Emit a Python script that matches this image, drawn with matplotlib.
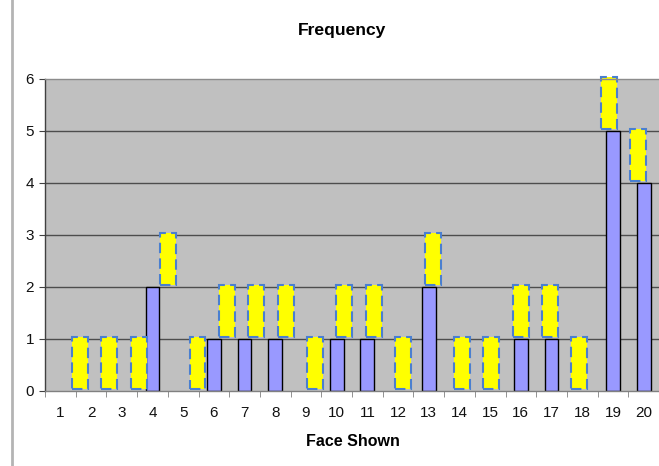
import matplotlib
matplotlib.use('Agg')
import matplotlib.pyplot as plt
from matplotlib.lines import Line2D
import numpy as np

plt.rcParams['font.family'] = ['Liberation Sans', 'DejaVu Sans']

# roll counts per die face
faces = np.arange(1, 21)
counts = [0, 0, 0, 2, 0, 1, 1, 1, 0, 1, 1, 0, 2, 0, 0, 1, 1, 0, 5, 4]
next_roll = [1] * 20

fig = plt.figure(figsize=(6.59, 4.66), dpi=100)
ax = fig.add_axes([45/659, 75/466, 614/659, 312/466])
ax.set_facecolor('#c0c0c0')

# gridlines
for y in range(1, 6):
    ax.axhline(y, color='#4d4d4d', lw=1, zorder=1)

counts = np.array(counts)
nz = counts > 0
ax.bar(faces[nz], counts[nz], width=0.45, color='#9999ff', edgecolor='black', lw=1, zorder=2)

# the added roll, drawn as dashed boxes sitting on top of each column
shift = 0.64 - 0.043 * (faces - 1)
boxes = ax.bar(faces + shift, next_roll, bottom=counts + 0.04, width=0.52, color='#ffff00',
               edgecolor='#4a7fd0', lw=1.5, linestyle=(0, (5, 2.5)), zorder=3)
for b in boxes:
    b.set_clip_on(False)

ax.set_xlim(0.5, 20.5)
ax.set_ylim(0, 6)
ax.set_yticks(range(0, 7))
ax.set_xticks(faces)
ax.set_xticks(np.arange(0.5, 21, 1), minor=True)
ax.tick_params(axis='x', which='major', length=0, pad=11, labelsize=11, labelcolor='#111111')
ax.tick_params(axis='x', which='minor', length=4, color='#808080', direction='out')
ax.tick_params(axis='y', length=4, color='#404040', pad=4, labelsize=11, labelcolor='#111111')

ax.spines['right'].set_visible(False)
ax.spines['top'].set_color('#8c8c8c')
ax.spines['bottom'].set_color('#808080')
ax.spines['left'].set_color('#404040')
for s in ax.spines.values():
    s.set_linewidth(1)
    s.set_zorder(4)

fig.text(342/659, 436/466, 'Frequency', ha='center', va='center', fontsize=12.6, fontweight='bold')
fig.text(353/659, 25/466, 'Face Shown', ha='center', va='center', fontsize=11.5, fontweight='bold')

fig.add_artist(Line2D([12/659, 12/659], [1/466, 1], color='#b4b4b4', lw=2))

fig.savefig('out.png', dpi=100)
